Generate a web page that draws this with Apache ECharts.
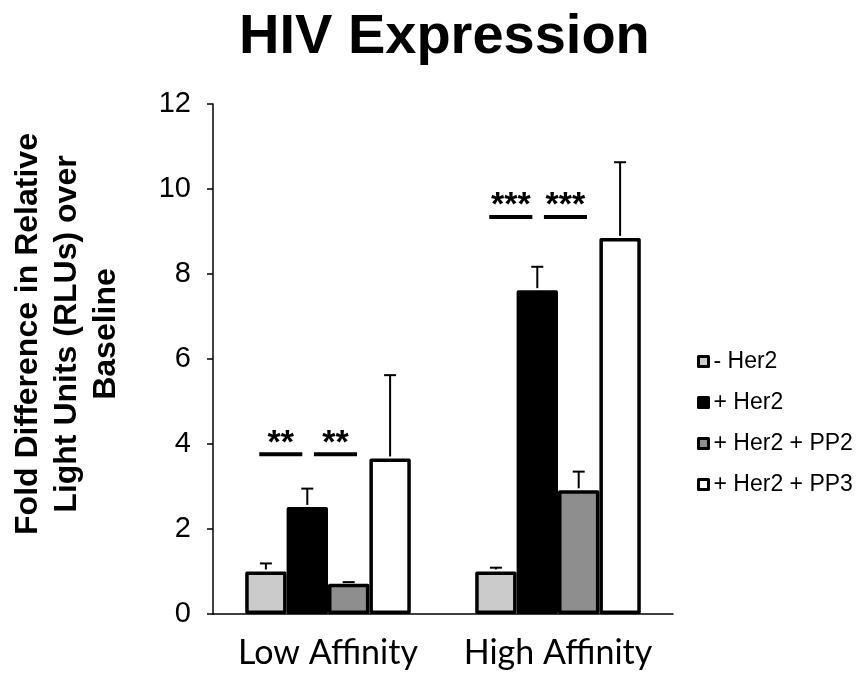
<!DOCTYPE html>
<html><head><meta charset="utf-8">
<script src="https://cdn.jsdelivr.net/npm/echarts@6/dist/echarts.min.js"></script>
<style>html,body{margin:0;padding:0;background:#fff}#c{width:857px;height:679px}</style>
</head><body><div id="c"></div>
<script>
const categories = ['Low Affinity', 'High Affinity'];
const seriesNames = ['- Her2', '+ Her2', '+ Her2 + PP2', '+ Her2 + PP3'];
const minusHer2 = [1.0, 1.0];
const plusHer2 = [2.52, 7.62];
const plusHer2PP2 = [0.71, 2.91];
const plusHer2PP3 = [3.66, 8.85];
const errMinusHer2 = [0.19, 0.09];
const errPlusHer2 = [0.43, 0.55];
const errPlusHer2PP2 = [0.04, 0.44];
const errPlusHer2PP3 = [1.96, 1.78];
const yTicks = [0, 2, 4, 6, 8, 10, 12];
const sigCategory = [0, 0, 1, 1];
const sigPair = [0, 1, 0, 1];
const sigLevel = [3.76, 3.76, 9.34, 9.34];
const sigLabel = ['**', '**', '***', '***'];

const values = [minusHer2, plusHer2, plusHer2PP2, plusHer2PP3];
const errors = [errMinusHer2, errPlusHer2, errPlusHer2PP2, errPlusHer2PP3];
const colors = ['#cbcbcb', '#000000', '#8e8e8e', '#ffffff'];
const GAP = 0.28;

const errData = [];
values.forEach((arr, s) => arr.forEach((v, c) => errData.push([c, s, v, v + errors[s][c]])));
const sigData = sigCategory.map((c, i) => [c, sigPair[i], sigLevel[i]]);

const chart = echarts.init(document.getElementById('c'), null, {renderer: 'canvas'});
const FONT = 'Liberation Sans, Arial, sans-serif';

const barSeries = seriesNames.map((n, s) => ({
  name: n, type: 'bar', data: values[s],
  barGap: '0%', barCategoryGap: (GAP * 100) + '%',
  itemStyle: {color: colors[s], borderColor: '#000', borderWidth: 3.5, borderJoin: 'round'},
  z: 2
}));

chart.setOption({
  animation: false,
  backgroundColor: '#fff',
  title: {
    text: 'HIV Expression', left: 234, top: 5,
    textStyle: {fontSize: 56, fontWeight: 'bold', color: '#000', fontFamily: FONT}
  },
  legend: {
    orient: 'vertical', left: 692, top: 345,
    itemWidth: 10, itemHeight: 10, itemGap: 18, icon: 'rect',
    itemStyle: {borderColor: '#000', borderWidth: 3},
    textStyle: {fontSize: 23, color: '#000', fontFamily: FONT},
    data: seriesNames
  },
  grid: {left: 213, right: 184, top: 104, bottom: 65, containLabel: false},
  xAxis: {
    type: 'category', data: categories,
    axisLine: {lineStyle: {color: '#000', width: 1.5}},
    axisTick: {length: 6, lineStyle: {color: '#000', width: 1.5}},
    axisLabel: {interval: 0, fontSize: 34, color: '#000', fontFamily: 'Lato, sans-serif', margin: 22}
  },
  yAxis: {
    type: 'value', min: yTicks[0], max: yTicks[yTicks.length - 1], interval: yTicks[1] - yTicks[0],
    axisLine: {show: true, lineStyle: {color: '#000', width: 1.5}},
    axisTick: {show: true, length: 6, lineStyle: {color: '#000', width: 1.5}},
    axisLabel: {fontSize: 29, color: '#000', fontFamily: FONT, margin: 22},
    splitLine: {show: false}
  },
  graphic: [{
    type: 'text', x: 67, y: 334, rotation: Math.PI / 2,
    style: {
      text: 'Fold Difference in Relative\nLight Units (RLUs) over\nBaseline',
      fontSize: 32, fontWeight: 'bold', fontFamily: FONT, fill: '#000',
      align: 'center', verticalAlign: 'middle', lineHeight: 39
    }
  }],
  series: barSeries.concat([
    {
      type: 'custom', name: 'err', data: errData, encode: {x: 0, y: 3}, z: 5,
      renderItem: function (params, api) {
        const c = api.value(0), s = api.value(1);
        const base = api.coord([c, api.value(2)]);
        const top = api.coord([c, api.value(3)]);
        const bw = api.size([1, 0])[0] * (1 - GAP) / 4;
        const x = base[0] + (s - 1.5) * bw;
        const st = {stroke: '#000', lineWidth: 2};
        return {type: 'group', children: [
          {type: 'line', shape: {x1: x, y1: base[1] - 2, x2: x, y2: top[1]}, style: st},
          {type: 'line', shape: {x1: x - 6, y1: top[1], x2: x + 6, y2: top[1]}, style: st}
        ]};
      }
    },
    {
      type: 'custom', name: 'sig', data: sigData, encode: {x: 0, y: 2}, z: 5,
      renderItem: function (params, api) {
        const c = api.value(0), p = api.value(1);
        const pt = api.coord([c, api.value(2)]);
        const bw = api.size([1, 0])[0] * (1 - GAP) / 4;
        const offs = [-1.14, 0.18];
        const cx = pt[0] + offs[p] * bw;
        const half = 0.52 * bw;
        return {type: 'group', children: [
          {type: 'line', shape: {x1: cx - half, y1: pt[1], x2: cx + half, y2: pt[1]},
           style: {stroke: '#000', lineWidth: 4}},
          {type: 'text', x: cx, y: pt[1] + 6,
           style: {text: sigLabel[params.dataIndex], fontSize: 34, fontWeight: 'bold', fontFamily: FONT, fill: '#000',
                   align: 'center', verticalAlign: 'bottom'}}
        ]};
      }
    }
  ])
});
</script></body></html>
